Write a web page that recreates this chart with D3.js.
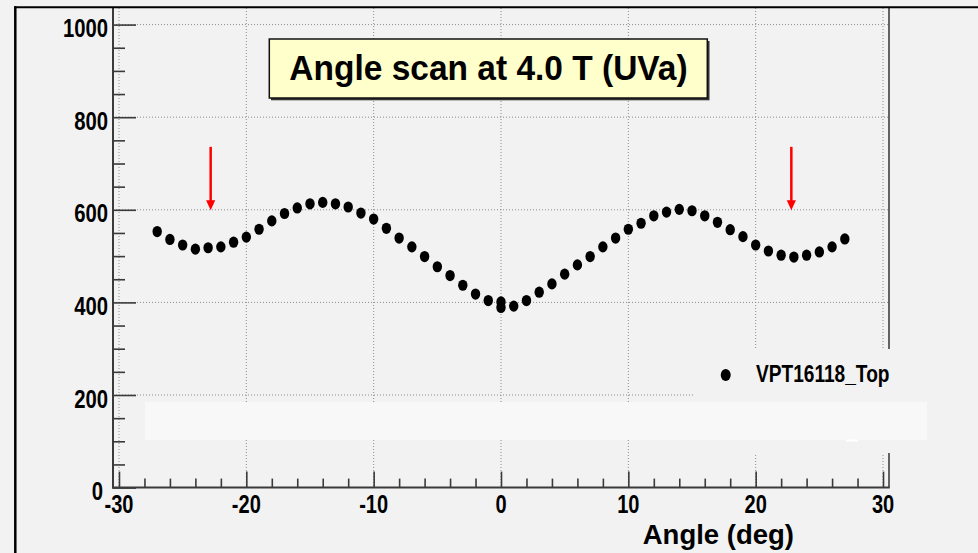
<!DOCTYPE html>
<html>
<head>
<meta charset="utf-8">
<script src="https://cdn.jsdelivr.net/npm/d3@7"></script>
<style>
  html, body { margin: 0; padding: 0; background: #f2f2f2; }
  svg { display: block; }
  text { font-family: "Liberation Sans", Arial, Helvetica, sans-serif; font-weight: bold; fill: #000; }
</style>
</head>
<body>
<svg id="chart" width="978" height="553"></svg>
<script>
// Angle scan measurements
const angles = [-27, -26, -25, -24, -23, -22, -21, -20, -19, -18, -17, -16, -15, -14, -13, -12, -11, -10,
  -9, -8, -7, -6, -5, -4, -3, -2, -1, 0, 0, 1, 2, 3, 4, 5, 6, 7, 8, 9, 10,
  11, 12, 13, 14, 15, 16, 17, 18, 19, 20, 21, 22, 23, 24, 25, 26, 27];
const values = [553, 536, 524, 515, 518, 520, 530, 541, 558, 576, 592, 604, 613, 616, 613, 606, 593, 580,
  560, 539, 520, 499, 477, 458, 437, 418, 404, 401, 389, 392, 404, 422, 440, 461, 481, 499, 520, 539, 558,
  571, 587, 595, 601, 598, 587, 573, 557, 542, 524, 511, 502, 498, 502, 509, 520, 537];

const xMajorTicks = [-30, -20, -10, 0, 10, 20, 30];
const xMinorTicks = [-28, -26, -24, -22, -18, -16, -14, -12, -8, -6, -4, -2, 2, 4, 6, 8, 12, 14, 16, 18, 22, 24, 26, 28];
const yMajorTicks = [0, 200, 400, 600, 800, 1000];
const yMinorTicks = [50, 100, 150, 250, 300, 350, 450, 500, 550, 650, 700, 750, 850, 900, 950];

// Red markers: [angle, from value, to value]
const arrowAngles = [-22.8, 22.8];
const arrowFrom = 736;
const arrowTo = 600;

const titleText = "Angle scan at 4.0 T (UVa)";
const xTitle = "Angle (deg)";
const seriesName = "VPT16118_Top";

const svg = d3.select("#chart");
const W = 978, H = 553;
const bg = "#f2f2f2";

const left = 113, right = 889, bottom = 487.6, top1000 = 24.6, frameTop = 8;
const x = d3.scaleLinear().domain([-30.47, 30.47]).range([left, right]);
const y = d3.scaleLinear().domain([0, 1000]).range([bottom, top1000]);

svg.append("rect").attr("width", W).attr("height", H).attr("fill", bg);

// Grid
const grid = svg.append("g").attr("stroke", "#8c8c8c").attr("stroke-width", 1).attr("stroke-dasharray", "1,2");
grid.selectAll("line.v").data(xMajorTicks).join("line")
  .attr("x1", d => x(d)).attr("x2", d => x(d)).attr("y1", frameTop).attr("y2", bottom);
grid.selectAll("line.h").data(yMajorTicks.filter(d => d > 0)).join("line")
  .attr("x1", left).attr("x2", right).attr("y1", d => y(d)).attr("y2", d => y(d));

// Frame right edge
svg.append("line").attr("x1", right).attr("x2", right).attr("y1", frameTop).attr("y2", bottom)
  .attr("stroke", "#333").attr("stroke-width", 1.5);

// Axes (ticks inward)
const axisColor = "#3a3a3a";
const yAxisMajor = svg.append("g").attr("transform", `translate(${left},0)`)
  .call(d3.axisRight(y).tickValues(yMajorTicks).tickSize(23).tickFormat(""));
const yAxisMinor = svg.append("g").attr("transform", `translate(${left},0)`)
  .call(d3.axisRight(y).tickValues(yMinorTicks).tickSize(12).tickFormat(""));
const xAxisMajor = svg.append("g").attr("transform", `translate(0,${bottom})`)
  .call(d3.axisTop(x).tickValues(xMajorTicks).tickSize(16).tickFormat(""));
const xAxisMinor = svg.append("g").attr("transform", `translate(0,${bottom})`)
  .call(d3.axisTop(x).tickValues(xMinorTicks).tickSize(9).tickFormat(""));
[yAxisMajor, yAxisMinor, xAxisMajor, xAxisMinor].forEach(g => {
  g.select(".domain").remove();
  g.selectAll(".tick line").attr("stroke", axisColor).attr("stroke-width", 1.6);
});
svg.append("line").attr("x1", left).attr("x2", left).attr("y1", frameTop).attr("y2", bottom + 1)
  .attr("stroke", axisColor).attr("stroke-width", 2);
svg.append("line").attr("x1", left - 1).attr("x2", right + 0.75).attr("y1", bottom).attr("y2", bottom)
  .attr("stroke", axisColor).attr("stroke-width", 2);

// Narrow bold text helper
function label(g, tx, ty, str, size, sx, anchor) {
  return g.append("text")
    .attr("transform", `translate(${tx},${ty}) scale(${sx},1)`)
    .attr("text-anchor", anchor)
    .attr("font-size", size)
    .text(str);
}

const labels = svg.append("g");
// the zero label sits a little further left so it clears the first x label
yMajorTicks.forEach(v => label(labels, v === 0 ? 103 : 108, y(v) + 12.5, String(v), 26, 0.78, "end"));
xMajorTicks.forEach(v => label(labels, x(v), 513, String(v), 26, 0.77, "middle"));
label(labels, 794, 544, xTitle, 27.5, 1.0, "end");

// Data points
svg.append("g").selectAll("ellipse").data(angles.map((a, i) => [a, values[i]])).join("ellipse")
  .attr("cx", d => x(d[0])).attr("cy", d => y(d[1]))
  .attr("rx", 4.7).attr("ry", 5.6).attr("fill", "#000");

// Arrows
const arrows = svg.append("g");
arrowAngles.forEach(a => {
  const ax = x(a), y0 = y(arrowFrom), y1 = y(arrowTo);
  arrows.append("line").attr("x1", ax).attr("x2", ax).attr("y1", y0).attr("y2", y1 - 8)
    .attr("stroke", "#ff0000").attr("stroke-width", 2.5);
  arrows.append("path")
    .attr("d", `M${ax - 4.6},${y1 - 9.5} L${ax + 4.6},${y1 - 9.5} L${ax},${y1 + 0.5} Z`)
    .attr("fill", "#ff0000");
});

// Legend
const legend = svg.append("g");
legend.append("rect").attr("x", 695).attr("y", 349).attr("width", 240).attr("height", 104).attr("fill", bg);
legend.append("ellipse").attr("cx", 725.7).attr("cy", 375).attr("rx", 5).attr("ry", 6).attr("fill", "#000");
label(legend, 756, 382.3, seriesName, 24.2, 0.79, "start");

// Pale band across the lower part
svg.append("rect").attr("x", 145).attr("y", 402).attr("width", 782).attr("height", 38).attr("fill", "#f8f8f8");
svg.append("rect").attr("x", 846).attr("y", 439.5).attr("width", 12).attr("height", 2).attr("fill", "#ffffff");

// Title box
const tb = svg.append("g");
tb.append("rect").attr("x", 271).attr("y", 41).attr("width", 438.5).attr("height", 59.3).attr("fill", "#333");
tb.append("rect").attr("x", 269.3).attr("y", 39).attr("width", 438).attr("height", 59).attr("fill", "#ffffcc")
  .attr("stroke", "#111").attr("stroke-width", 1.5);
label(tb, 488.5, 80, titleText, 35, 0.957, "middle");

// Outer border (top and left)
svg.append("line").attr("x1", 14).attr("x2", W).attr("y1", 7.3).attr("y2", 7.3).attr("stroke", "#000").attr("stroke-width", 2);
svg.append("line").attr("x1", 15.3).attr("x2", 15.3).attr("y1", 6.3).attr("y2", H).attr("stroke", "#000").attr("stroke-width", 2.5);
</script>
</body>
</html>
